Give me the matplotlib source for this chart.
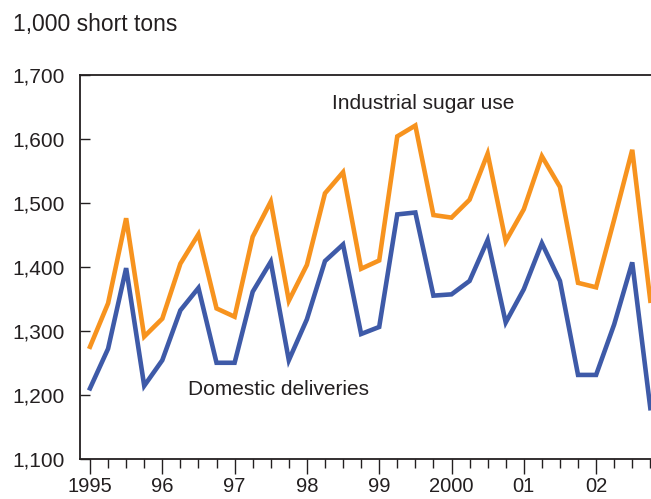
import matplotlib
matplotlib.use("Agg")
import matplotlib.pyplot as plt
import numpy as np

# quarterly, 1995 Q1 - 2002 Q4 (1,000 short tons)
years = list(range(1995, 2003))
year_labels = ['1995', '96', '97', '98', '99', '2000', '01', '02']
industrial = [1275, 1343, 1476, 1291,
              1319, 1405, 1451, 1335,
              1322, 1447, 1502, 1347,
              1403, 1515, 1548, 1397,
              1410, 1604, 1621, 1481,
              1477, 1505, 1577, 1440,
              1490, 1573, 1525, 1375,
              1368, 1474, 1583, 1347]
domestic = [1210, 1272, 1398, 1214,
            1254, 1332, 1367, 1250,
            1250, 1361, 1408, 1254,
            1318, 1409, 1435, 1295,
            1306, 1482, 1485, 1355,
            1357, 1378, 1442, 1313,
            1365, 1437, 1378, 1231,
            1231, 1310, 1407, 1179]

plt.rcParams['font.family'] = ['Liberation Sans', 'DejaVu Sans']

x = 1995 + np.arange(len(industrial)) / 4.0

fig = plt.figure(figsize=(6.51, 4.99), dpi=100)
ax = fig.add_axes([80 / 651, 40.3 / 499, 1 - 80 / 651, 383.7 / 499])

ax.plot(x, industrial, color='#F7931E', lw=3.3, solid_joinstyle='miter', clip_on=False)
ax.plot(x, domestic, color='#3E5AA8', lw=3.3, solid_joinstyle='miter', clip_on=False)

ax.set_xlim(1995 - 10 / 72.3, 1995 + 561 / 72.3)
ax.set_ylim(1100, 1700)

ax.spines['right'].set_visible(False)
for s in ['left', 'top', 'bottom']:
    ax.spines[s].set_linewidth(1.3)
    ax.spines[s].set_color('#231F20')

ax.set_yticks(range(1100, 1701, 100))
ax.set_yticklabels(['{:,}'.format(v) for v in range(1100, 1701, 100)])
ax.tick_params(axis='y', direction='in', length=7, width=1, labelsize=15,
               pad=11, colors='#231F20')

ax.set_xticks(years)
ax.set_xticklabels(year_labels)
ax.set_xticks(x, minor=True)
ax.tick_params(axis='x', which='major', direction='out', length=11, width=1,
               labelsize=14.5, pad=2.5, colors='#231F20')
ax.tick_params(axis='x', which='minor', direction='out', length=6.5, width=1,
               colors='#231F20')

ax.text(1998.35, 1656, 'Industrial sugar use', fontsize=15, color='#231F20',
        ha='left', va='center')
ax.text(1996.36, 1208, 'Domestic deliveries', fontsize=15, color='#231F20',
        ha='left', va='center')

fig.text(13 / 651, 1 - 25 / 499, '1,000 short tons', fontsize=16.5, color='#231F20',
         ha='left', va='center')

fig.savefig('out.png', dpi=100)
